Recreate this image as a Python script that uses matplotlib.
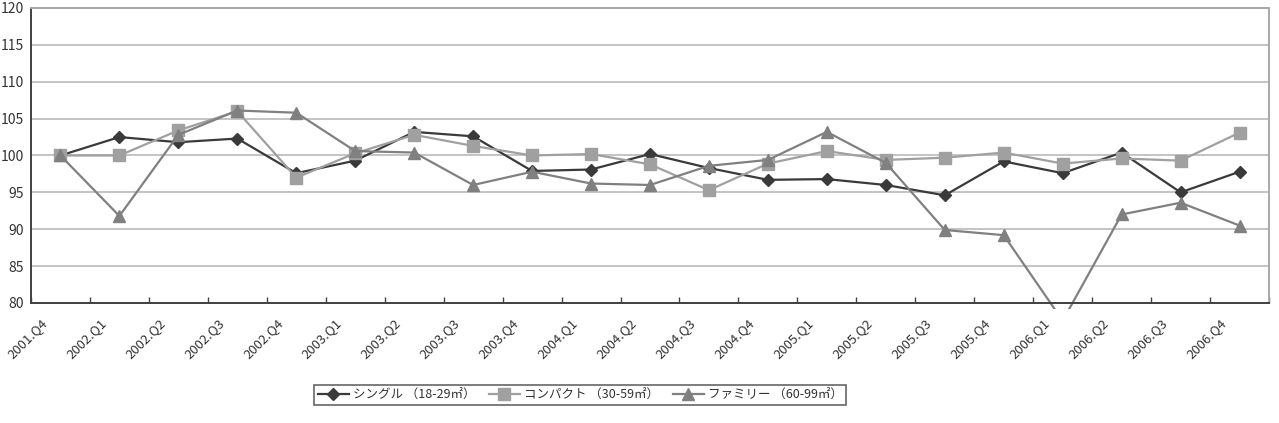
import numpy as np
import matplotlib
matplotlib.use("Agg")
import matplotlib.pyplot as plt
import matplotlib.transforms as mtransforms

plt.rcParams['font.family'] = ['Noto Sans CJK JP', 'DejaVu Sans']

quarters = ['2001.Q4', '2002.Q1', '2002.Q2', '2002.Q3', '2002.Q4', '2003.Q1', '2003.Q2',
            '2003.Q3', '2003.Q4', '2004.Q1', '2004.Q2', '2004.Q3', '2004.Q4', '2005.Q1',
            '2005.Q2', '2005.Q3', '2005.Q4', '2006.Q1', '2006.Q2', '2006.Q3', '2006.Q4']

single = [100, 102.5, 101.8, 102.3, 97.6, 99.3, 103.2, 102.6, 97.9, 98.1, 100.2,
          98.3, 96.7, 96.8, 96.0, 94.6, 99.2, 97.6, 100.4, 95.0, 97.8]
compact = [100, 100.0, 103.4, 106.0, 97.0, 100.3, 102.8, 101.3, 100.0, 100.2, 98.8,
           95.3, 98.9, 100.6, 99.4, 99.7, 100.4, 98.9, 99.6, 99.3, 103.1]
family = [100, 91.8, 102.8, 106.1, 105.8, 100.6, 100.4, 96.0, 97.8, 96.2, 96.0,
          98.6, 99.4, 103.2, 99.0, 89.9, 89.2, 77.6, 92.0, 93.6, 90.5]

labels = ['シングル （18-29㎡）', 'コンパクト （30-59㎡）', 'ファミリー （60-99㎡）']

fig = plt.figure(figsize=(12.79, 4.23), dpi=100)
ax = fig.add_axes([0.0242, 0.2837, 0.968, 0.6974])

x = np.arange(len(quarters))
l1, = ax.plot(x, single, color='#3a3a3a', marker='D', markersize=6.5, linewidth=1.6)
l2, = ax.plot(x, compact, color='#a0a0a0', marker='s', markersize=8, linewidth=1.6)
l3, = ax.plot(x, family, color='#808080', marker='^', markersize=8.5, linewidth=1.6)

# let the dropped line poke a little below the axis like the original
clip = mtransforms.TransformedBbox(mtransforms.Bbox([[0, -0.02], [1, 1]]), ax.transAxes)
l3.set_clip_box(clip)

ax.set_xlim(-0.5, len(quarters) - 0.5)
ax.set_ylim(80, 120)
ax.set_yticks(np.arange(80, 121, 5))
ax.yaxis.grid(True, color='#c4c4c4', linewidth=1.4)
ax.set_axisbelow(True)

for s in ['top', 'right']:
    ax.spines[s].set_color('#a8a8a8')
    ax.spines[s].set_linewidth(1.4)
for s in ['left', 'bottom']:
    ax.spines[s].set_color('#404040')
    ax.spines[s].set_linewidth(1.4)

ax.tick_params(axis='y', length=0, labelsize=10, pad=5, colors='#333333')
ax.set_xticks(np.arange(len(quarters) + 1) - 0.5, minor=False)
ax.set_xticklabels([])
ax.tick_params(axis='x', direction='in', length=4, width=1, color='#404040')
ax.set_xticks(x, minor=True)
ax.set_xticklabels(quarters, minor=True, rotation=45, ha='right', rotation_mode='anchor',
                   fontsize=9.5, color='#333333')
ax.tick_params(axis='x', which='minor', length=0, pad=0)
offset = mtransforms.ScaledTranslation(-0.2, -0.13, fig.dpi_scale_trans)
for lab in ax.xaxis.get_minorticklabels():
    lab.set_transform(lab.get_transform() + offset)

leg = fig.legend(handles=[l1, l2, l3], labels=labels, loc='center', ncol=3,
                 bbox_to_anchor=(580 / 1279, 1 - 395 / 423), fontsize=9,
                 frameon=True, fancybox=False, edgecolor='#404040',
                 handlelength=2.5, columnspacing=1.1, borderpad=0.3, handletextpad=0.3)
leg.get_frame().set_linewidth(1.2)
for t in leg.get_texts():
    t.set_color('#333333')

fig.savefig('out.png', dpi=100)
